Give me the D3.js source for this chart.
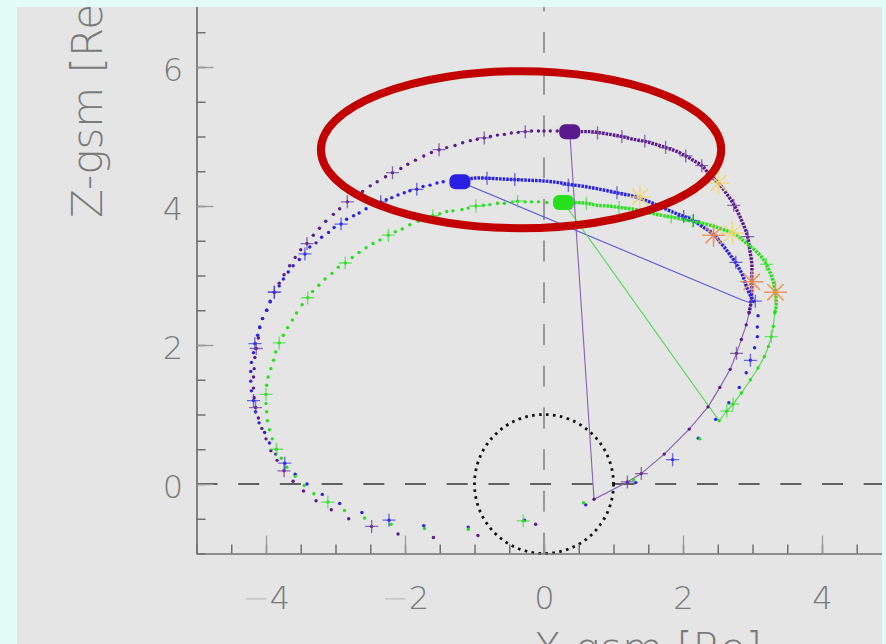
<!DOCTYPE html>
<html>
<head>
<meta charset="utf-8">
<script src="https://cdn.jsdelivr.net/npm/d3@7"></script>
<style>
  html, body { margin: 0; padding: 0; background: #e4fcf6; }
  svg { display: block; }
</style>
</head>
<body>
<svg id="chart" width="886" height="644"></svg>
<script>
// ---- Orbit samples in GSM coordinates [X, Z] (Earth radii) ----

// Purple spacecraft: sparse samples, high-rate track, hourly ticks, link line
const purpleDots = [[0.19,5.08],[0.09,5.08],[0.00,5.08],[-0.08,5.08],[-0.18,5.08],[-0.27,5.07],[-0.37,5.06],[-0.47,5.05],[-0.57,5.03],[-0.67,5.02],[-0.77,5.00],[-0.86,4.98],[-0.96,4.96],[-1.06,4.94],[-1.17,4.91],[-1.28,4.87],[-1.40,4.84],[-1.51,4.81],[-1.62,4.77],[-1.73,4.72],[-1.85,4.66],[-1.96,4.60],[-2.06,4.54],[-2.18,4.48],[-2.28,4.42],[-2.40,4.35],[-2.50,4.29],[-2.61,4.21],[-2.72,4.14],[-2.83,4.06],[-2.94,3.96],[-3.03,3.88],[-3.14,3.78],[-3.23,3.68],[-3.32,3.58],[-3.41,3.46],[-3.50,3.37],[-3.58,3.26],[-3.66,3.14],[-3.74,3.01],[-3.81,2.89],[-3.88,2.76],[-3.94,2.62],[-3.99,2.50],[-4.05,2.38],[-4.09,2.25],[-4.11,2.10],[-4.14,1.95],[-4.16,1.82],[-4.17,1.66],[-4.18,1.54],[-4.18,1.38],[-4.17,1.24],[-4.15,1.10],[-4.11,0.95],[-4.06,0.80],[-4.00,0.65],[-3.93,0.48],[-3.84,0.34],[-3.74,0.19],[-3.61,0.04],[-3.46,-0.10],[-3.28,-0.24],[-3.06,-0.37],[-2.81,-0.50],[-2.48,-0.61],[-2.10,-0.72],[-1.59,-0.77],[-0.95,-0.74],[-0.12,-0.58],[0.72,-0.22],[1.20,0.03],[1.40,0.15],[1.73,0.43],[2.09,0.79],[2.36,1.11],[2.53,1.39],[2.68,1.65],[2.77,1.88],[2.84,2.08],[2.91,2.29],[2.95,2.46]];
const purpleTrack = [[0.37,5.07],[0.55,5.07],[0.66,5.07],[0.77,5.06],[0.95,5.03],[1.12,5.00],[1.28,4.96],[1.45,4.93],[1.60,4.89],[1.75,4.84],[1.90,4.79],[2.04,4.72],[2.16,4.65],[2.27,4.58],[2.37,4.47],[2.48,4.36],[2.56,4.27],[2.64,4.16],[2.72,4.04],[2.79,3.91],[2.84,3.80],[2.89,3.68],[2.93,3.56],[2.95,3.44],[2.97,3.31],[2.99,3.18],[2.99,3.05],[2.99,2.91],[2.99,2.78],[2.98,2.62],[2.95,2.46]];
const purpleCrosses = [[-0.27,5.07],[-0.86,4.98],[-1.51,4.81],[-2.18,4.48],[-2.83,4.06],[-3.41,3.46],[-3.88,2.76],[-4.14,1.95],[-4.15,1.10],[-3.74,0.19],[-2.48,-0.61],[0.77,5.05],[1.12,5.00],[1.45,4.93],[1.75,4.84],[2.04,4.72],[2.27,4.58],[2.73,4.01],[2.93,3.56],[2.77,1.88],[1.40,0.15],[1.20,0.03]];
const purpleLink = [[0.37,5.07],[0.72,-0.22],[1.20,0.03],[1.40,0.15],[1.73,0.43],[2.09,0.79],[2.36,1.11],[2.53,1.39],[2.68,1.65],[2.77,1.88],[2.84,2.08],[2.91,2.29],[2.95,2.46],[2.98,2.62]];
const purpleApogee = [0.37,5.07];

// Blue spacecraft
const blueDots = [[-1.45,4.35],[-1.54,4.33],[-1.64,4.30],[-1.74,4.28],[-1.83,4.24],[-1.93,4.22],[-2.01,4.19],[-2.10,4.16],[-2.19,4.12],[-2.27,4.09],[-2.35,4.06],[-2.46,4.02],[-2.56,3.96],[-2.66,3.90],[-2.74,3.86],[-2.84,3.81],[-2.92,3.74],[-3.02,3.69],[-3.10,3.62],[-3.20,3.55],[-3.28,3.47],[-3.37,3.41],[-3.44,3.31],[-3.52,3.23],[-3.61,3.14],[-3.68,3.05],[-3.75,2.95],[-3.81,2.85],[-3.88,2.76],[-3.94,2.63],[-3.99,2.50],[-4.05,2.38],[-4.09,2.26],[-4.12,2.14],[-4.16,2.02],[-4.18,1.89],[-4.21,1.75],[-4.22,1.62],[-4.22,1.48],[-4.21,1.34],[-4.18,1.20],[-4.15,1.04],[-4.10,0.88],[-4.02,0.74],[-3.95,0.59],[-3.86,0.43],[-3.73,0.30],[-3.58,0.14],[-3.41,0.00],[-3.19,-0.15],[-2.94,-0.28],[-2.62,-0.41],[-2.23,-0.52],[-1.73,-0.60],[-1.09,-0.62],[-0.28,-0.52],[0.60,-0.30],[1.32,0.02],[1.85,0.35],[2.22,0.66],[2.47,0.93],[2.66,1.17],[2.81,1.39],[2.91,1.60],[2.97,1.78],[3.03,1.96],[3.07,2.12],[3.07,2.26],[3.08,2.42]];
const blueTrack = [[-1.21,4.35],[-1.02,4.40],[-0.82,4.40],[-0.63,4.39],[-0.42,4.38],[-0.20,4.37],[0.00,4.36],[0.19,4.34],[0.37,4.31],[0.59,4.28],[0.81,4.24],[1.05,4.19],[1.24,4.15],[1.38,4.11],[1.54,4.05],[1.70,3.98],[1.86,3.91],[2.01,3.85],[2.15,3.79],[2.27,3.71],[2.43,3.60],[2.56,3.45],[2.66,3.32],[2.76,3.18],[2.85,3.02],[2.91,2.85],[2.98,2.69],[3.04,2.60]];
const blueCrosses = [[-1.83,4.24],[-2.35,4.06],[-2.92,3.74],[-3.44,3.31],[-3.88,2.76],[-4.16,2.02],[-4.18,1.20],[-3.73,0.30],[-2.23,-0.52],[1.85,0.35],[2.97,1.78],[3.04,2.63],[-0.82,4.40],[-0.42,4.38],[0.35,4.30],[1.05,4.19],[2.01,3.85],[2.15,3.79],[2.76,3.19]];
const blueLink = [[-1.21,4.35],[2.84,2.65],[2.99,2.60]];
const blueApogee = [-1.21,4.35];

// Green spacecraft
const greenDots = [[0.04,4.05],[-0.08,4.06],[-0.18,4.06],[-0.27,4.06],[-0.38,4.07],[-0.46,4.05],[-0.57,4.04],[-0.67,4.04],[-0.78,4.02],[-0.87,4.01],[-0.98,4.00],[-1.09,3.97],[-1.18,3.95],[-1.31,3.93],[-1.40,3.92],[-1.50,3.89],[-1.60,3.86],[-1.71,3.81],[-1.81,3.78],[-1.93,3.73],[-2.04,3.67],[-2.14,3.63],[-2.24,3.58],[-2.36,3.51],[-2.46,3.46],[-2.56,3.40],[-2.66,3.33],[-2.76,3.26],[-2.86,3.18],[-2.96,3.12],[-3.05,3.03],[-3.15,2.95],[-3.24,2.86],[-3.33,2.77],[-3.40,2.68],[-3.48,2.58],[-3.56,2.46],[-3.62,2.36],[-3.69,2.25],[-3.75,2.14],[-3.81,2.03],[-3.86,1.90],[-3.89,1.78],[-3.93,1.66],[-3.97,1.54],[-3.99,1.42],[-4.00,1.29],[-4.00,1.16],[-3.99,1.04],[-3.98,0.91],[-3.95,0.78],[-3.91,0.65],[-3.85,0.50],[-3.78,0.37],[-3.70,0.24],[-3.58,0.11],[-3.45,-0.02],[-3.31,-0.14],[-3.11,-0.26],[-2.87,-0.38],[-2.58,-0.49],[-2.20,-0.58],[-1.72,-0.64],[-1.09,-0.65],[-0.30,-0.53],[0.57,-0.27],[1.29,0.06],[2.24,0.65],[2.52,0.91],[2.63,1.05],[2.72,1.15],[2.84,1.31],[2.97,1.50],[3.08,1.67],[3.17,1.83],[3.23,1.98],[3.27,2.12],[3.30,2.27],[3.32,2.46]];
const greenTrack = [[0.28,4.05],[0.45,4.05],[0.61,4.04],[0.76,4.01],[0.92,4.00],[1.08,3.98],[1.24,3.96],[1.38,3.94],[1.53,3.90],[1.67,3.87],[1.83,3.84],[1.99,3.81],[2.14,3.78],[2.29,3.75],[2.44,3.71],[2.58,3.66],[2.71,3.61],[2.82,3.54],[2.92,3.46],[3.02,3.38],[3.11,3.29],[3.17,3.21],[3.21,3.14],[3.25,3.05],[3.29,2.95],[3.31,2.85],[3.33,2.76],[3.34,2.65],[3.34,2.55],[3.32,2.46]];
const greenCrosses = [[-0.38,4.07],[-0.98,4.00],[-1.60,3.86],[-2.24,3.58],[-2.86,3.18],[-3.40,2.68],[-3.81,2.03],[-4.00,1.29],[-3.85,0.50],[-3.11,-0.26],[-0.30,-0.53],[2.63,1.05],[2.72,1.15],[3.27,2.12],[0.61,4.04],[1.08,3.98],[1.83,3.84],[2.14,3.78],[3.20,3.16]];
const greenLink = [[0.28,4.05],[2.52,0.91],[2.63,1.05],[2.72,1.15],[2.84,1.31],[2.97,1.50],[3.08,1.67],[3.17,1.83],[3.23,1.98],[3.27,2.12],[3.30,2.27],[3.32,2.46],[3.34,2.55]];
const greenApogee = [0.28,4.05];

// Event markers along the tracks
const yellowStars = [[1.38,4.13],[2.51,4.33],[2.71,3.61]];
const orangeStars = [[2.44,3.58],[2.99,2.91],[3.33,2.76]];

// Axes
const xDomain = [-5, 5];
const yDomain = [-1, 7];
const xTickLabels = [-4, -2, 0, 2, 4];
const yTickLabels = [0, 2, 4, 6];
const minorStep = 0.5;
const earthRadius = 1;

// Highlight ring around the apogee region [centre X, centre Z], [radius X, radius Z]
const highlightCentre = [-0.33, 4.81];
const highlightRadii = [2.88, 1.13];

// ---- Drawing ----
const W = 886, H = 644;
const svg = d3.select("#chart");

const x = d3.scaleLinear().domain(xDomain).range([196.5, 891.5]);
const y = d3.scaleLinear().domain(yDomain).range([553.5, -2.5]);

svg.append("rect").attr("width", W).attr("height", H).attr("fill", "#e4fcf6");

const defs = svg.append("defs");
defs.append("clipPath").attr("id", "panel")
  .append("rect").attr("x", 17).attr("y", 7).attr("width", 865).attr("height", H - 7);

const root = svg.append("g").attr("clip-path", "url(#panel)");
root.append("rect").attr("x", 17).attr("y", 7).attr("width", 865).attr("height", H - 7).attr("fill", "#e5e5e5");

const FONT = "'DejaVu Sans', 'Liberation Sans', sans-serif";

// Reference lines through the origin
root.append("line")
  .attr("x1", x(0)).attr("x2", x(0)).attr("y1", y(-1)).attr("y2", y(7))
  .attr("stroke", "#9a9a9a").attr("stroke-width", 2).attr("stroke-dasharray", "21 20.7");
root.append("line")
  .attr("x1", x(-5)).attr("x2", x(5)).attr("y1", y(0)).attr("y2", y(0))
  .attr("stroke", "#333").attr("stroke-width", 1.7).attr("stroke-dasharray", "21 20.7");

// Earth
root.append("circle")
  .attr("cx", x(0)).attr("cy", y(0)).attr("r", x(earthRadius) - x(0))
  .attr("fill", "none").attr("stroke", "#111").attr("stroke-width", 2.8)
  .attr("stroke-dasharray", "2.6 4.4");

const sc = [
  { dots: purpleDots, track: purpleTrack, crosses: purpleCrosses, link: purpleLink, apogee: purpleApogee,
    color: "#5a1a8e", cross: "#6a3a9c", linkColor: "#8660b4" },
  { dots: blueDots, track: blueTrack, crosses: blueCrosses, link: blueLink, apogee: blueApogee,
    color: "#2a20e4", cross: "#3a36e6", linkColor: "#5a56e8" },
  { dots: greenDots, track: greenTrack, crosses: greenCrosses, link: greenLink, apogee: greenApogee,
    color: "#26e01e", cross: "#3ede3a", linkColor: "#50da50" }
];

const line = d3.line().x(d => x(d[0])).y(d => y(d[1]));
const curve = d3.line().x(d => x(d[0])).y(d => y(d[1])).curve(d3.curveCatmullRom.alpha(0.5));

// Link lines
sc.forEach(s => {
  root.append("path").datum(s.link).attr("d", line)
    .attr("fill", "none").attr("stroke", s.linkColor).attr("stroke-width", 1.1);
});

// High-rate tracks
sc.forEach(s => {
  root.append("path").datum(s.track).attr("d", curve)
    .attr("fill", "none").attr("stroke", s.color).attr("stroke-width", 3.4)
    .attr("stroke-dasharray", "2.6 1");
});

// Sample dots
sc.forEach(s => {
  root.append("g").selectAll("circle").data(s.dots).join("circle")
    .attr("cx", d => x(d[0])).attr("cy", d => y(d[1])).attr("r", 1.7)
    .attr("fill", s.color);
});

// Hourly ticks
const crossPath = "M-6.5,0H6.5M0,-6.5V6.5";
sc.forEach(s => {
  root.append("g").selectAll("path").data(s.crosses).join("path")
    .attr("d", crossPath)
    .attr("transform", d => `translate(${x(d[0])},${y(d[1])})`)
    .attr("fill", "none").attr("stroke", s.cross).attr("stroke-width", 1.3).attr("opacity", 0.75);
});

// Event stars
const starPath = (() => {
  const r = 11.5, parts = [];
  for (let k = 0; k < 4; k++) {
    const a = k * Math.PI / 4, c = Math.cos(a) * r, s = Math.sin(a) * r;
    parts.push(`M${-c},${-s}L${c},${s}`);
  }
  return parts.join("");
})();
[[yellowStars, "#f1d870"], [orangeStars, "#ee8a48"]].forEach(([pts, col]) => {
  root.append("g").selectAll("path").data(pts).join("path")
    .attr("d", starPath)
    .attr("transform", d => `translate(${x(d[0])},${y(d[1])})`)
    .attr("fill", "none").attr("stroke", col).attr("stroke-width", 1.6).attr("opacity", 0.85);
});

// Apogee markers
sc.forEach(s => {
  root.append("rect")
    .attr("x", x(s.apogee[0]) - 10.5).attr("y", y(s.apogee[1]) - 7.5)
    .attr("width", 21).attr("height", 15).attr("rx", 6).attr("ry", 6)
    .attr("fill", s.color);
});

// Axes
const yMinor = d3.range(yDomain[0], yDomain[1] + 0.001, minorStep);
const xMinor = d3.range(xDomain[0], xDomain[1] + 0.001, minorStep);

const gy = root.append("g").attr("transform", `translate(${x(xDomain[0])},0)`).attr("color", "#707070");
gy.call(d3.axisLeft(y).tickValues(yMinor).tickSizeInner(-9).tickSizeOuter(0).tickFormat(""));
gy.select(".domain").attr("stroke-width", 1.7);
gy.selectAll(".tick line").attr("stroke-width", 1.5);

const gyL = root.append("g").attr("transform", `translate(${x(xDomain[0])},0)`).attr("color", "#9a9a9a");
gyL.call(d3.axisLeft(y).tickValues(yTickLabels).tickSizeInner(-17).tickSizeOuter(0).tickPadding(13.5));
gyL.select(".domain").remove();
gyL.selectAll(".tick line").attr("stroke-width", 1.3);
gyL.selectAll(".tick text")
  .attr("font-family", FONT).attr("font-weight", 200).attr("font-size", 32)
  .attr("fill", "#7a7a7a").attr("dy", "0.42em");

const gx = root.append("g").attr("transform", `translate(0,${y(yDomain[0])})`).attr("color", "#707070");
gx.call(d3.axisBottom(x).tickValues(xMinor).tickSizeInner(-9).tickSizeOuter(0).tickFormat(""));
gx.select(".domain").attr("stroke-width", 1.7);
gx.selectAll(".tick line").attr("stroke-width", 1.5);

const gxL = root.append("g").attr("transform", `translate(0,${y(yDomain[0])})`).attr("color", "#9a9a9a");
gxL.call(d3.axisBottom(x).tickValues(xTickLabels).tickSizeInner(-18).tickSizeOuter(0).tickPadding(33));
gxL.select(".domain").remove();
gxL.selectAll(".tick line").attr("stroke-width", 1.3);
gxL.selectAll(".tick text")
  .attr("font-family", FONT).attr("font-weight", 200).attr("font-size", 32)
  .attr("fill", "#7a7a7a")
  .each(function (d) {
    const t = d3.select(this).text("");
    if (d < 0) t.append("tspan").attr("fill", "#c4c4c4").text("\u2212");
    t.append("tspan").text(Math.abs(d));
  });

// Axis titles
root.append("text")
  .attr("transform", "translate(102,218) rotate(-90)")
  .attr("font-family", FONT).attr("font-weight", 200).attr("font-size", 42)
  .attr("fill", "#7a7a7a").text("Z-gsm [Re]");
root.append("text")
  .attr("x", 533).attr("y", 662.6)
  .attr("font-family", FONT).attr("font-weight", 200).attr("font-size", 42)
  .attr("fill", "#7a7a7a").text("X-gsm [Re]");

// Highlight ring
root.append("ellipse")
  .attr("cx", x(highlightCentre[0])).attr("cy", y(highlightCentre[1]))
  .attr("rx", x(highlightRadii[0]) - x(0)).attr("ry", y(0) - y(highlightRadii[1]))
  .attr("fill", "none").attr("stroke", "#c20000").attr("stroke-width", 8);
</script>
</body>
</html>
